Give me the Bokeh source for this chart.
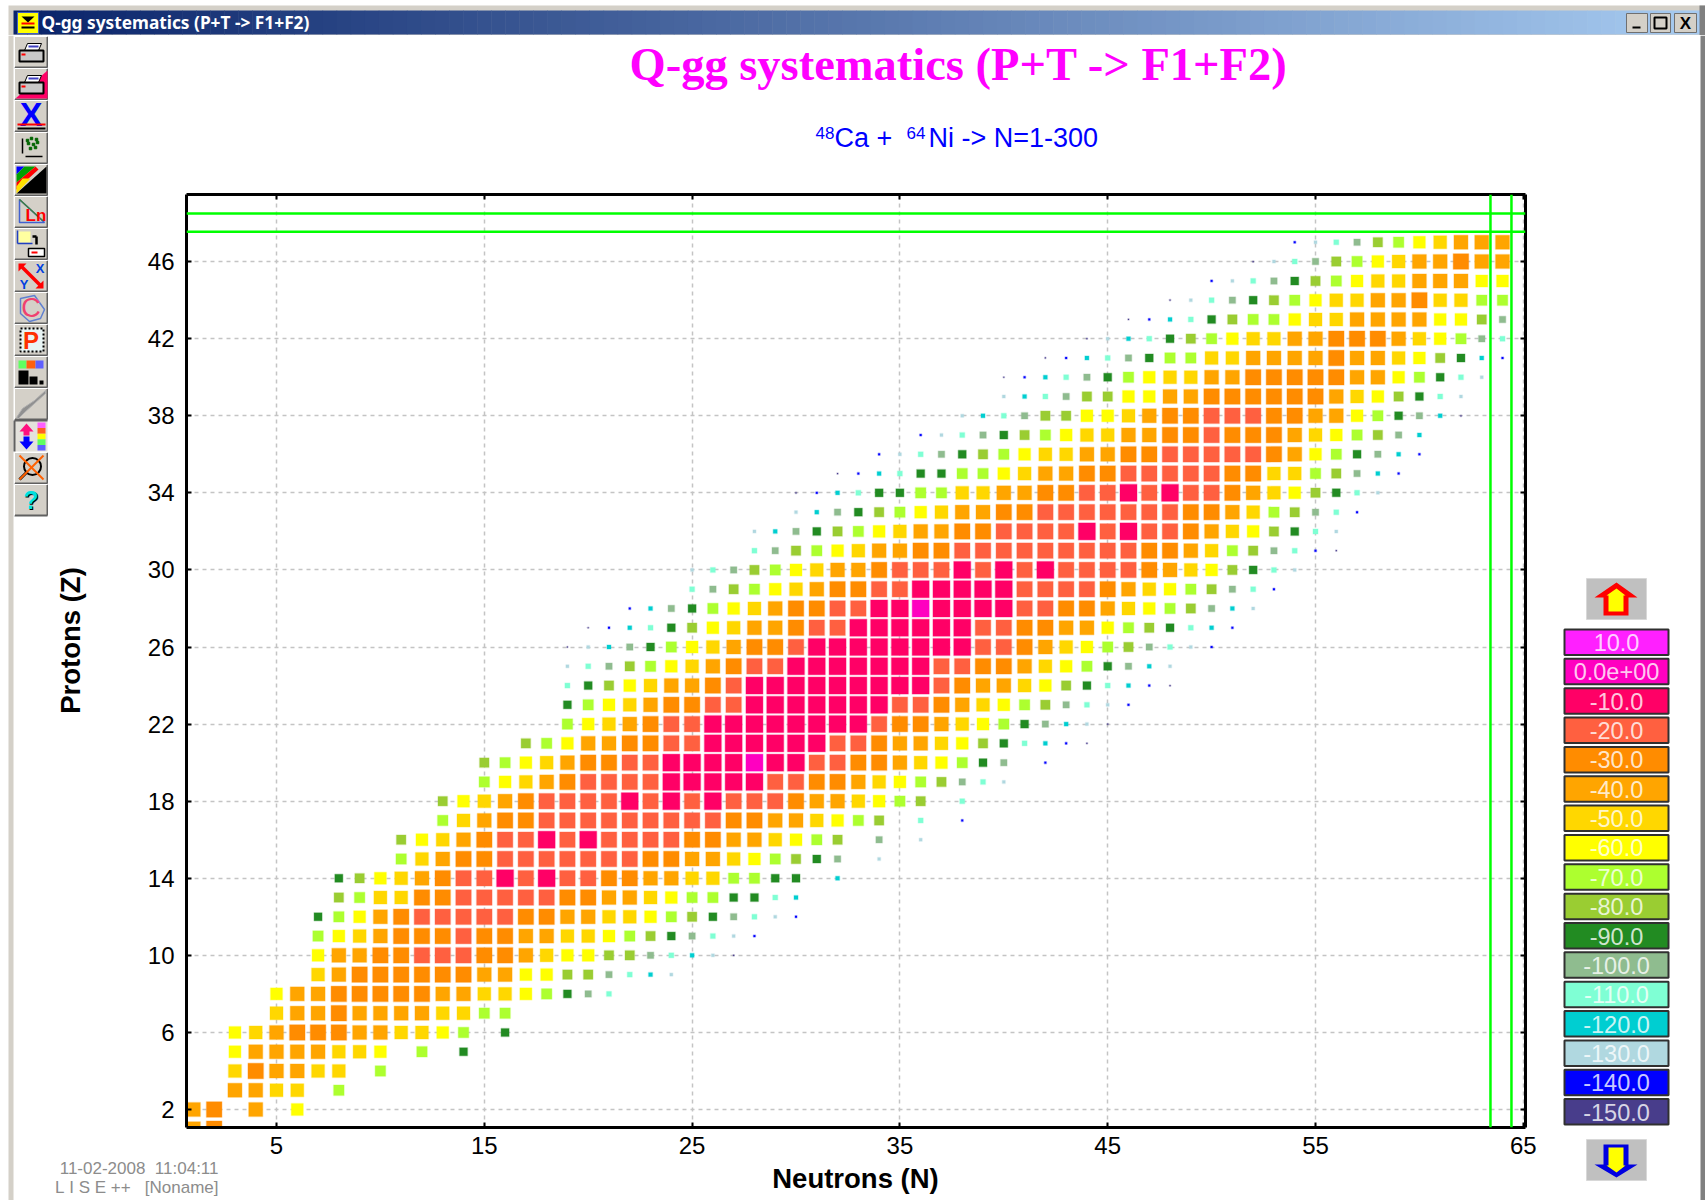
from bokeh.plotting import figure
from bokeh.models import Range1d, FixedTicker, LinearAxis, Span
from bokeh.layouts import column, row
from bokeh.core.properties import value
from bokeh.embed import file_html
from bokeh.resources import INLINE

_ = None
# Q-gg value per (Z, N): each row lists the values from its first neutron number on; None = no cell
z_first_n = [1,1,3,3,3,3,5,5,7,7,7,7,8,8,11,11,13,13,15,15,17,19,19,19,19,19,20,22,25,25,28,28,30,30,32,34,36,38,40,40,42,44,46,48,50,52,54]
z1 = [-40,-30]
z2 = [-40,-30,_,-40,_,-60]
z3 = [-40,-40,-50,-50,_,-70]
z4 = [-50,-30,-40,-40,-50,-50,_,-70]
z5 = [-60,-40,-40,-40,-40,-50,-50,-60,_,-70,_,-90]
z6 = [-60,-50,-40,-30,-30,-30,-40,-40,-50,-50,-60,-70,_,-90]
z7 = [-50,-40,-40,-30,-40,-40,-40,-40,-50,-50,-70,-70]
z8 = [-60,-40,-40,-30,-30,-30,-30,-30,-40,-40,-50,-50,-60,-70,-90,-100,-110]
z9 = [-50,-40,-30,-30,-30,-30,-30,-30,-40,-40,-60,-60,-80,-80,-100,-110,-120,-130]
z10 = [-60,-40,-40,-30,-30,-20,-20,-20,-30,-30,-40,-50,-60,-60,-80,-80,-100,-110,-120,-130,-150]
z11 = [-70,-60,-50,-40,-30,-30,-30,-20,-30,-30,-40,-40,-50,-50,-60,-70,-80,-90,-100,-110,-130,-140]
z12 = [-90,-70,-60,-40,-30,-20,-20,-20,-20,-20,-30,-30,-40,-40,-50,-50,-60,-70,-80,-90,-100,-110,-130,-140]
z13 = [-80,-70,-50,-50,-30,-30,-20,-20,-20,-20,-20,-30,-30,-40,-40,-50,-60,-70,-70,-90,-90,-110,-120]
z14 = [-90,-80,-60,-50,-40,-30,-20,-20,-10,-20,-10,-20,-20,-30,-30,-40,-40,-50,-50,-70,-70,-90,-90,_,-120]
z15 = [-70,-50,-40,-30,-30,-20,-20,-20,-20,-20,-20,-20,-30,-30,-40,-40,-50,-60,-70,-80,-90,-100,_,-130]
z16 = [-80,-60,-50,-40,-30,-20,-20,-10,-20,-10,-20,-20,-20,-20,-30,-30,-40,-40,-50,-60,-70,-80,_,-100,_,-130]
z17 = [-70,-50,-40,-30,-30,-20,-20,-20,-20,-20,-20,-20,-20,-20,-30,-30,-40,-40,-50,-60,-70,-80,_,-110,_,-140]
z18 = [-80,-60,-50,-40,-30,-20,-20,-20,-20,-10,-20,-10,-20,-10,-20,-20,-20,-30,-40,-40,-50,-60,-70,-80,_,-110]
z19 = [-70,-60,-50,-40,-30,-20,-20,-20,-20,-10,-10,-10,-10,-10,-20,-20,-30,-30,-40,-50,-60,-70,-80,-100,-110,-130]
z20 = [-80,-70,-60,-50,-40,-30,-30,-20,-20,-10,-10,-10,-10,0,-10,-10,-20,-20,-30,-30,-40,-50,-60,-70,-90,-100,_,-140]
z21 = [-80,-70,-60,-40,-40,-30,-30,-20,-20,-10,-10,-10,-10,-10,-10,-20,-20,-30,-40,-40,-50,-60,-80,-90,-110,-120,-140,-150]
z22 = [-70,-60,-50,-40,-30,-20,-20,-10,-10,-10,-10,-10,-10,-10,-10,-20,-30,-30,-40,-50,-60,-70,-90,-100,-120,-130,-150]
z23 = [-90,-70,-60,-50,-40,-30,-30,-20,-20,-10,-10,-10,-10,-10,-10,-10,-20,-20,-30,-40,-50,-60,-70,-80,-100,-110,-130,-140]
z24 = [-110,-90,-80,-60,-50,-40,-40,-30,-20,-10,-10,-10,-10,-10,-10,-10,-10,-10,-20,-30,-40,-40,-50,-60,-80,-90,-110,-120,-140,-150]
z25 = [-130,-110,-100,-80,-70,-60,-50,-40,-30,-20,-20,-10,-10,-10,-10,-10,-10,-10,-20,-20,-30,-30,-40,-50,-60,-70,-90,-100,-120,-130]
z26 = [-150,-130,-120,-100,-90,-70,-60,-50,-40,-30,-30,-20,-10,-10,-10,-10,-10,-10,-10,-10,-20,-20,-30,-40,-50,-60,-70,-80,-100,-110,-130,-140]
z27 = [-150,-140,-120,-110,-90,-80,-60,-50,-40,-40,-30,-20,-20,-10,-10,-10,-10,-10,-10,-20,-20,-30,-30,-40,-40,-60,-70,-80,-90,-110,-120,-140]
z28 = [-140,-120,-100,-90,-70,-60,-50,-40,-30,-30,-20,-20,-10,-10,0,-10,-10,-10,-10,-20,-20,-30,-30,-40,-50,-60,-70,-80,-100,-120,-130]
z29 = [-110,-100,-80,-70,-60,-50,-40,-30,-30,-20,-20,-10,-10,-10,-10,-10,-20,-20,-20,-20,-30,-40,-50,-60,-70,-80,-100,-110,-140]
z30 = [-130,-110,-100,-80,-70,-60,-50,-40,-40,-30,-20,-20,-20,-10,-20,-10,-20,-10,-20,-20,-20,-20,-30,-40,-50,-60,-80,-90,-110,-130]
z31 = [-110,-100,-80,-70,-60,-50,-40,-40,-30,-30,-20,-20,-20,-20,-20,-20,-20,-20,-20,-30,-30,-40,-50,-70,-80,-100,-110,-140,-150]
z32 = [-130,-120,-100,-90,-80,-70,-60,-50,-40,-40,-30,-30,-20,-20,-20,-20,-10,-20,-10,-20,-20,-30,-40,-50,-60,-80,-90,-110,-130]
z33 = [-130,-120,-100,-90,-80,-70,-60,-50,-40,-40,-30,-30,-20,-20,-20,-20,-20,-20,-20,-30,-30,-40,-50,-70,-80,-100,-110,-140]
z34 = [-150,-140,-120,-110,-90,-90,-70,-70,-50,-50,-40,-40,-30,-30,-20,-20,-10,-20,-10,-20,-20,-30,-40,-50,-60,-80,-90,-110,-130]
z35 = [-150,-140,-120,-110,-90,-90,-70,-70,-60,-50,-40,-40,-30,-30,-20,-20,-20,-20,-20,-30,-30,-50,-50,-70,-80,-100,-120,-140]
z36 = [-140,-130,-110,-100,-90,-80,-70,-60,-50,-50,-40,-40,-30,-30,-20,-20,-20,-20,-20,-30,-40,-60,-70,-90,-100,-120,-140]
z37 = [-140,-130,-110,-100,-90,-80,-70,-60,-50,-50,-40,-40,-30,-30,-20,-30,-30,-30,-40,-50,-60,-70,-80,-100,-120]
z38 = [-130,-120,-110,-100,-80,-80,-60,-60,-50,-40,-30,-30,-20,-20,-20,-30,-30,-40,-40,-60,-70,-90,-100,-120,-150]
z39 = [-130,-120,-110,-100,-80,-80,-60,-60,-40,-40,-30,-30,-30,-30,-30,-30,-40,-50,-60,-80,-90,-110,-130]
z40 = [-150,-140,-120,-110,-100,-90,-70,-60,-50,-50,-40,-40,-30,-30,-30,-30,-30,-40,-40,-60,-70,-90,-110,-130]
z41 = [-150,-140,-120,-110,-100,-90,-70,-70,-50,-50,-40,-40,-40,-40,-30,-40,-40,-50,-60,-80,-90,-120,-140]
z42 = [-150,-130,-120,-110,-90,-80,-70,-60,-50,-50,-40,-40,-30,-30,-30,-40,-50,-60,-70,-100,-110]
z43 = [-150,-140,-120,-110,-90,-80,-70,-70,-60,-50,-50,-40,-40,-40,-40,-60,-60,-80,-100]
z44 = [-150,-130,-110,-100,-90,-80,-70,-60,-50,-50,-40,-40,-30,-50,-50,-70,-70]
z45 = [-140,-130,-110,-100,-90,-80,-70,-60,-50,-50,-40,-40,-40,-60,-60]
z46 = [-150,-130,-110,-100,-80,-70,-60,-50,-40,-40,-30,-40,-40]
z47 = [-140,-130,-110,-100,-80,-70,-60,-50,-40,-40,-40]
z_rows = [z1,z2,z3,z4,z5,z6,z7,z8,z9,z10,z11,z12,z13,z14,z15,z16,z17,z18,z19,z20,z21,z22,z23,z24,
          z25,z26,z27,z28,z29,z30,z31,z32,z33,z34,z35,z36,z37,z38,z39,z40,z41,z42,z43,z44,z45,z46,z47]

legend_values = [10,0,-10,-20,-30,-40,-50,-60,-70,-80,-90,-100,-110,-120,-130,-140,-150]
legend_labels = ["10.0","0.0e+00","-10.0","-20.0","-30.0","-40.0","-50.0","-60.0","-70.0","-80.0","-90.0",
                 "-100.0","-110.0","-120.0","-130.0","-140.0","-150.0"]
legend_colors = ["#FF20FF","#FF00C0","#FF0066","#FF6040","#FF8C00","#FFA500","#FFD700","#FFFF00","#ADFF2F",
                 "#9ACD32","#228B22","#8FBC8F","#7FFFD4","#00CED1","#B0D8E0","#0000FF","#483D8B"]
level_sizes = [17,17,17,15.5,15.5,14,13,12,10.5,9.5,8,6.5,5,4,3,2,1.2]

x_ticks = [5,15,25,35,45,55,65]
y_ticks = [2,6,10,14,18,22,26,30,34,38,42,46]
cut_z = [47.55,48.5]
cut_n = [63.42,64.43]

SANS = "Liberation Sans"

def canvas(x0, x1, y0, y1):
    f = figure(width=x1-x0, height=y1-y0, x_range=Range1d(x0,x1), y_range=Range1d(y1,y0),
               x_axis_type=None, y_axis_type=None, toolbar_location=None, output_backend="svg",
               min_border=0, outline_line_color=None, background_fill_color="white", frame_align=False)
    f.grid.visible = False
    return f

# ---- window title bar
bar = canvas(0, 1705, 0, 35)
bar.quad(left=[8],right=[1705],top=[5],bottom=[35],fill_color="#d4d0c8",line_color=None)
n_grad = 120
c0, c1 = (10,36,106), (166,202,240)
lefts = [13+(1699-13)*i/n_grad for i in range(n_grad)]
rights = [13+(1699-13)*(i+1)/n_grad+0.5 for i in range(n_grad)]
cols = ["#%02x%02x%02x" % tuple(int(a+(b-a)*i/(n_grad-1)) for a,b in zip(c0,c1)) for i in range(n_grad)]
bar.quad(left=lefts,right=rights,top=[10]*n_grad,bottom=[34]*n_grad,fill_color=cols,line_color=None)
bar.quad(left=[1699],right=[1705],top=[5],bottom=[35],fill_color="#808080",line_color=None)
bar.quad(left=[17],right=[38],top=[12],bottom=[33],fill_color="#FFFF00",line_color="#4060c0")
bar.patch([21,34,27.5],[16,16,22],fill_color="black",line_color=None)
bar.quad(left=[21],right=[34],top=[22],bottom=[24],fill_color="red",line_color=None)
bar.quad(left=[21],right=[34],top=[26],bottom=[28],fill_color="black",line_color=None)
bar.text([41],[21.5],text=["Q-gg systematics (P+T -> F1+F2)"],text_font=value("Noto Sans"),text_font_style="bold",
         text_font_size="17.3px",text_color="white",text_baseline="middle")
bar.quad(left=[1626,1650,1674],right=[1647,1670,1696],top=[13]*3,bottom=[32]*3,fill_color="#d4d0c8",line_color="#707070")
bar.quad(left=[1632],right=[1640],top=[26],bottom=[28],fill_color="black",line_color=None)
bar.quad(left=[1654],right=[1666],top=[17],bottom=[28],fill_color=None,line_color="black",line_width=2)
bar.text([1685],[22.5],text=["X"],text_font=value(SANS),text_font_style="bold",text_font_size="17px",
         text_color="black",text_align="center",text_baseline="middle")

# ---- left icon strip
tb = canvas(0, 48, 35, 1200)
tb.quad(left=[8],right=[13],top=[35],bottom=[1200],fill_color="#d4d0c8",line_color=None)
def ytop(i): return 36+32*i
for i in range(15):
    y = ytop(i)
    shade = "#e4e2dc" if i == 12 else "#d4d0c8"
    tb.quad(left=[14],right=[47],top=[y],bottom=[y+31],fill_color=shade,line_color=None)
    dark = "#606060"
    if i == 12:
        tb.segment([14,14],[y,y],[47,14],[y,y+31],line_color=dark,line_width=2)
    else:
        tb.segment([14,47],[y+31,y],[47,47],[y+31,y+31],line_color=dark,line_width=2)
        tb.segment([14,14],[y,y],[47,14],[y,y+31],line_color="white",line_width=1)
def printer(y):
    tb.patch([27,41,38,24],[y+7,y+7,y+14,y+14],fill_color="white",line_color="black")
    tb.quad(left=[19],right=[43],top=[y+14],bottom=[y+25],fill_color="#c8c8c8",line_color="black",line_width=2)
    tb.quad(left=[21],right=[25],top=[y+17],bottom=[y+19],fill_color="red",line_color=None)
    tb.quad(left=[28],right=[38],top=[y+9],bottom=[y+11],fill_color="#4040c0",line_color=None)
def icon_text(i, s, color, size, dx=0, dy=0, bold=True, font=SANS):
    tb.text([30.5+dx],[ytop(i)+15.5+dy],text=[s],text_font=value(font),text_font_style="bold" if bold else "normal",
            text_font_size=size,text_color=color,text_align="center",text_baseline="middle")
printer(ytop(0))
y = ytop(1)
tb.patch([47,47,15],[y+2,y+30,y+30],fill_color="#FF0066",line_color=None)
printer(y)
icon_text(2,"X","#0000FF","34px",dy=-2)
y = ytop(2)
tb.segment([17],[y+24],[45],[y+24],line_color="red",line_width=2)
tb.segment([17],[y+28],[45],[y+28],line_color="black",line_width=2)
y = ytop(3)
tb.segment([22],[y+6],[22],[y+21],line_color="black",line_width=1.5)
tb.segment([25],[y+24],[42],[y+24],line_color="black",line_width=1.5)
tb.scatter([27,31,36,28,33,37,30,35],[y+8,y+6,y+7,y+11,y+12,y+10,y+16,y+15],marker="square",size=2.5,color="#006400")
y = ytop(4)
tb.patch([16,46,46],[y+29,y+2,y+29],fill_color="black",line_color=None)
tb.patch([16,24,16],[y+2,y+2,y+10],fill_color="#0000FF",line_color=None)
tb.patch([24,35,16,16],[y+2,y+2,y+18,y+10],fill_color="#00A000",line_color=None)
tb.patch([35,38,16,16],[y+2,y+5,y+25,y+18],fill_color="#FF0000",line_color=None)
tb.patch([22,30,16,16],[y+14,y+14,y+29,y+22],fill_color="#FFE000",line_color=None)
y = ytop(5)
tb.patch([19,19,44],[y+3,y+26,y+26],fill_color=None,line_color="#4060d0",line_width=1.5)
tb.segment([19],[y+3],[42],[y+24],line_color="#408040",line_width=1.5)
icon_text(5,"Ln","#FF0000","17px",dx=5,dy=3)
y = ytop(6)
tb.quad(left=[18],right=[30],top=[y+3],bottom=[y+14],fill_color="#FFFFA0",line_color=None)
tb.segment([17,17],[y+2,y+15],[17,32],[y+15,y+15],line_color="#2040c0",line_width=1.5)
tb.segment([32,36],[y+8,y+8],[36,36],[y+8,y+16],line_color="black",line_width=2.5)
tb.quad(left=[28],right=[44],top=[y+20],bottom=[y+28],fill_color="white",line_color="black",line_width=1.5)
tb.quad(left=[31],right=[37],top=[y+23],bottom=[y+25],fill_color="red",line_color=None)
y = ytop(7)
tb.segment([20],[y+5],[41],[y+26],line_color="#FF0000",line_width=3.5)
tb.patch([18,26,18],[y+3,y+3,y+11],fill_color="#FF0000",line_color=None)
tb.patch([43,43,35],[y+28,y+20,y+28],fill_color="#FF0000",line_color=None)
icon_text(7,"X","#0040E0","13px",dx=9,dy=-8)
icon_text(7,"Y","#0040E0","13px",dx=-7,dy=8)
y = ytop(8)
tb.patch([20,34,44,40,29,20],[y+6,y+3,y+17,y+26,y+29,y+21],fill_color=None,line_color="#6080d0",line_width=1.5)
icon_text(8,"C","#F04070","27px",bold=False)
y = ytop(9)
tb.quad(left=[20],right=[43],top=[y+4],bottom=[y+27],fill_color="#E8F4F4",line_color="black",line_width=2,line_dash="2 2")
icon_text(9,"P","#FF3000","24px")
y = ytop(10)
tb.quad(left=[18,26,35],right=[26,35,43],top=[y+4]*3,bottom=[y+12]*3,fill_color=["#60FF60","#FF6010","#6060FF"],line_color=None)
tb.quad(left=[18,29,39],right=[28,37,43],top=[y+14,y+20,y+24],bottom=[y+28]*3,fill_color="black",line_color=None)
y = ytop(11)
tb.patch([16,22,34,45,45,34,24,18],[y+29,y+20,y+12,y+2,y+5,y+15,y+24,y+30],fill_color="#909090",line_color="#b0b0b0")
y = ytop(12)
tb.patch([26,19,23,23,29,29,33],[y+3,y+11,y+11,y+15,y+15,y+11,y+11],fill_color="#FF1080",line_color=None)
tb.patch([26,19,23,23,29,29,33],[y+29,y+21,y+21,y+16,y+16,y+21,y+21],fill_color="#0000FF",line_color=None)
tb.quad(left=[37]*5,right=[45]*5,top=[y+2+i*5.6 for i in range(5)],bottom=[y+7.6+i*5.6 for i in range(5)],
        fill_color=["#FF60FF","#FF6020","#FFFF00","#60FF60","#6060FF"],line_color=None)
y = ytop(13)
tb.scatter([32],[y+14],marker="circle",size=17,fill_color=None,line_color="black",line_width=2)
tb.segment([19],[y+27],[26],[y+20],line_color="black",line_width=3)
tb.segment([19,19],[y+3,y+27],[43,43],[y+27,y+3],line_color="#FF6000",line_width=2)
icon_text(14,"?","black","25px",dx=1,dy=1)
icon_text(14,"?","#00E0E0","25px")

# ---- title area
head = canvas(48, 1545, 35, 175)
head.text([958],[64],text=["Q-gg systematics (P+T -> F1+F2)"],text_font=value("Liberation Serif"),text_font_style="bold",
          text_font_size="46.5px",text_color="#FF00FF",text_align="center",text_baseline="middle")
for sx, sy, s, fs in [(815,132,"48","17px"),(834,137.5,"Ca\u00a0+","27px"),(906,132,"64","17px"),(928,137.5,"Ni -> N=1-300","27px")]:
    head.text([sx],[sy],text=[s],text_font=value(SANS),text_font_size=fs,text_color="#0000FF",text_baseline="middle")

# ---- y-axis title strip
side = canvas(48, 110, 175, 1158)
side.text([70],[640],text=["Protons (Z)"],text_font=value(SANS),text_font_style="bold",text_font_size="27.5px",
          text_color="black",text_align="center",text_baseline="middle",angle=1.5708)

# ---- main plot
FRAME_L, FRAME_T, FRAME_W, FRAME_H = 186, 194, 1339, 933
PX_N, PX_Z = 20.78, 19.27
x_start = 5 - (276-FRAME_L)/PX_N
y_start = 2 - (FRAME_T+FRAME_H-1109)/PX_Z
p = figure(width=1435, height=983, x_range=Range1d(x_start,x_start+FRAME_W/PX_N), y_range=Range1d(y_start,y_start+FRAME_H/PX_Z),
           toolbar_location=None, output_backend="svg", min_border_left=FRAME_L-110, min_border_right=1545-FRAME_L-FRAME_W,
           min_border_top=FRAME_T-175, min_border_bottom=1158-FRAME_T-FRAME_H, outline_line_color=None, frame_align=False)
def style_axis(ax, ticks, labels=True):
    ax.ticker = FixedTicker(ticks=ticks)
    ax.axis_line_color = "black"
    ax.axis_line_width = 3
    ax.major_tick_in = 5
    ax.major_tick_out = 0
    ax.major_tick_line_width = 2
    ax.major_tick_line_color = "black"
    ax.minor_tick_line_color = None
    ax.major_label_text_font = SANS
    ax.major_label_text_font_size = "24px"
    ax.major_label_text_color = "black"
    if not labels:
        ax.major_label_text_color = None
        ax.major_label_text_font_size = "1px"
style_axis(p.xaxis[0], x_ticks)
style_axis(p.yaxis[0], y_ticks)
p.xaxis[0].major_label_standoff = 9
p.yaxis[0].major_label_standoff = 12
top_ax = LinearAxis(); style_axis(top_ax, x_ticks, False); p.add_layout(top_ax, "above")
right_ax = LinearAxis(); style_axis(right_ax, y_ticks, False); p.add_layout(right_ax, "right")
p.xgrid.ticker = FixedTicker(ticks=x_ticks)
p.ygrid.ticker = FixedTicker(ticks=y_ticks)
for g in (p.xgrid, p.ygrid):
    g.grid_line_color = "#c4c4c4"
    g.grid_line_width = 1.5
    g.grid_line_dash = "4 4"

xs, ys, cs, ss = [], [], [], []
for zi, (first, vals) in enumerate(zip(z_first_n, z_rows)):
    for k, v in enumerate(vals):
        if v is None:
            continue
        idx = legend_values.index(v)
        xs.append(first+k); ys.append(zi+1); cs.append(legend_colors[idx]); ss.append(level_sizes[idx])
p.scatter(xs, ys, marker="square", size=ss, fill_color=cs, line_color=cs, line_alpha=0.25, line_width=1.5)

for z in cut_z:
    p.add_layout(Span(location=z, dimension="width", line_color="#00FF00", line_width=2.5))
for n in cut_n:
    p.add_layout(Span(location=n, dimension="height", line_color="#00FF00", line_width=2.5))

# ---- footer
foot = canvas(48, 1545, 1158, 1200)
foot.text([855],[1178],text=["Neutrons (N)"],text_font=value(SANS),text_font_style="bold",text_font_size="27.5px",
          text_color="black",text_align="center",text_baseline="middle")
foot.text([218,218],[1168,1187],text=["11-02-2008\u00a0\u00a011:04:11","L\u00a0I\u00a0S\u00a0E\u00a0++\u00a0\u00a0\u00a0[Noname]"],
          text_font=value(SANS),text_font_size="17px",text_color="#8c8c8c",text_align="right",text_baseline="middle")

# ---- colour legend
leg = canvas(1545, 1705, 35, 1200)
leg.quad(left=[1700],right=[1705],top=[35],bottom=[1200],fill_color="#808080",line_color=None)
tops = [629+29.35*i for i in range(len(legend_labels))]
leg.quad(left=[1564]*17,right=[1668]*17,top=tops,bottom=[t+25.5 for t in tops],fill_color=legend_colors,
         line_color="#303030",line_width=2)
leg.text([1616]*17,[t+13 for t in tops],text=legend_labels,text_font=value(SANS),text_font_size="23.5px",
         text_color="white",text_alpha=0.8,text_align="center",text_baseline="middle")
leg.quad(left=[1586,1586],right=[1646,1646],top=[578,1139],bottom=[619,1180],fill_color="#c0c0c0",line_color="#d8d8d8")
leg.patch([1616,1637,1628,1628,1603,1603,1594],[582,597,597,615,615,597,597],fill_color="#FF0000",line_color=None)
leg.patch([1616,1625,1623,1623,1608,1608,1606],[588,595,595,611,611,595,595],fill_color="#FFFF00",line_color=None)
leg.patch([1616,1637,1628,1628,1603,1603,1594],[1177,1164,1164,1144,1144,1164,1164],fill_color="#0000E0",line_color=None)
leg.patch([1616,1625,1623,1623,1608,1608,1606],[1172,1165,1165,1147,1147,1165,1165],fill_color="#FFFF00",line_color=None)

page = column(bar, row(tb, column(head, row(side, p, spacing=0), foot, spacing=0), leg, spacing=0), spacing=0)
open("out.html","w").write(file_html(page, INLINE))
